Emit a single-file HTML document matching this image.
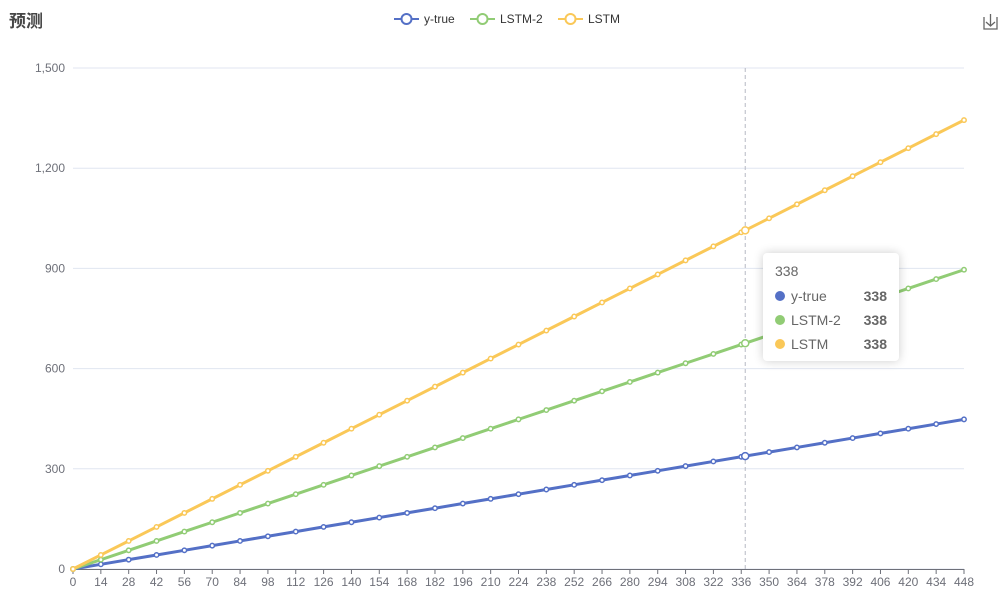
<!DOCTYPE html>
<html><head><meta charset="utf-8"><style>
body{margin:0;background:#fff;font-family:"Liberation Sans","Noto Sans CJK SC",sans-serif;}
#wrap{position:relative;width:1008px;height:601px;overflow:hidden;}
#tip{position:absolute;left:763px;top:253px;width:136px;height:108px;background:#fff;border-radius:4px;box-shadow:0 0 10px rgba(0,0,0,0.2);font-size:14px;color:#666;box-sizing:border-box;padding:9px 12px;}
#tip .r{display:flex;align-items:center;height:24px;}
#tip .d{width:10px;height:10px;border-radius:5px;margin-right:6px;}
#tip .v{margin-left:auto;font-weight:bold;}
</style></head><body>
<div id="wrap">
<svg id="svg" width="1008" height="601"></svg>
<div id="tip">
<div style="height:18px;line-height:18px;margin-bottom:4px">338</div>
<div class="r"><span class="d" style="background:#5470c6"></span>y-true<span class="v">338</span></div>
<div class="r"><span class="d" style="background:#91cc75"></span>LSTM-2<span class="v">338</span></div>
<div class="r"><span class="d" style="background:#fac858"></span>LSTM<span class="v">338</span></div>
</div>
</div>
<script>
const categories=[0,14,28,42,56,70,84,98,112,126,140,154,168,182,196,210,224,238,252,266,280,294,308,322,336,350,364,378,392,406,420,434,448];
const yTrue=[0,14,28,42,56,70,84,98,112,126,140,154,168,182,196,210,224,238,252,266,280,294,308,322,336,350,364,378,392,406,420,434,448];
const lstm2=[0,28,56,84,112,140,168,196,224,252,280,308,336,364,392,420,448,476,504,532,560,588,616,644,672,700,728,756,784,812,840,868,896];
const lstm=[0,42,84,126,168,210,252,294,336,378,420,462,504,546,588,630,672,714,756,798,840,882,924,966,1008,1050,1092,1134,1176,1218,1260,1302,1344];
const yTicks=[0,300,600,900,1200,1500];
const yTickLabels=["0","300","600","900","1,200","1,500"];
const hoverX=338;
const hoverVals=[338,676,1014];
const NS="http://www.w3.org/2000/svg";
const svg=document.getElementById('svg');
const X0=73,X1=964,Y0=569,Y1=68,XMAX=448,YMAX=1500;
const sx=v=>X0+(X1-X0)*v/XMAX;
const sy=v=>Y0-(Y0-Y1)*v/YMAX;
function mk(t,a,p){const e=document.createElementNS(NS,t);for(const k in a)e.setAttribute(k,a[k]);(p||svg).appendChild(e);return e;}
function txt(x,y,s,a){const e=mk('text',Object.assign({x:x,y:y},a));e.textContent=s;return e;}
// title
let t=txt(9,27,'预测',{'font-size':'17','font-weight':'bold',fill:'#464646'});


// y grid
yTicks.forEach((v,i)=>{
  let g=mk('line',{x1:X0,x2:X1,y1:sy(v),y2:sy(v),stroke:'#e0e6f1','stroke-width':1});
  
  
  let l=txt(65,sy(v)+4,yTickLabels[i],{'font-size':'12',fill:'#6e7079','text-anchor':'end'});
  
  
});
// x axis
let ax=mk('line',{x1:X0,x2:X1,y1:Y0+0.5,y2:Y0+0.5,stroke:'#6e7079','stroke-width':1});


categories.forEach(c=>{
  let tk=mk('line',{x1:sx(c),x2:sx(c),y1:Y0,y2:Y0+5,stroke:'#6e7079'});
  
  
  let l=txt(sx(c),Y0+17,String(c),{'font-size':'12',fill:'#6e7079','text-anchor':'middle'});
  
  
});
// pointer line
let pl=mk('line',{x1:sx(hoverX),x2:sx(hoverX),y1:Y1,y2:Y0,stroke:'#b6b9c4','stroke-dasharray':'4,3'});


const series=[{name:'y-true',data:yTrue,c:'#5470c6'},{name:'LSTM-2',data:lstm2,c:'#91cc75'},{name:'LSTM',data:lstm,c:'#fac858'}];
series.forEach((s,si)=>{
  const g=mk('g',{});
  
  
  const pts=s.data.map((v,i)=>sx(categories[i])+','+sy(v)).join(' ');
  let p=mk('polyline',{points:pts,fill:'none',stroke:s.c,'stroke-width':3},g);
  
  
  s.data.forEach((v,i)=>{
    let c=mk('circle',{cx:sx(categories[i]),cy:sy(v),r:2.2,fill:'#fff',stroke:s.c,'stroke-width':1.5},g);
    
    
  });
  let h=mk('circle',{cx:sx(hoverX),cy:sy(hoverVals[si]),r:3.5,fill:'#fff',stroke:s.c,'stroke-width':1.5},g);
  
  
});
// legend
const lx=[394,470,558];
series.forEach((s,i)=>{
  const g=mk('g',{});
  
  
  mk('line',{x1:lx[i],x2:lx[i]+25,y1:19,y2:19,stroke:s.c,'stroke-width':2},g);
  mk('circle',{cx:lx[i]+12.5,cy:19,r:5,fill:'#fff',stroke:s.c,'stroke-width':2},g);
  let tt=mk('text',{x:lx[i]+30,y:23,'font-size':'12',fill:'#333'},g);
  tt.textContent=s.name;
});
// download icon
const d=mk('g',{stroke:'#666','stroke-width':1.3,fill:'none'});


mk('path',{d:'M984 17 V29 H997 V17 M990.5 14 V26 M986 22 L990.5 26 L995 22'},d);
</script>
</body></html>
